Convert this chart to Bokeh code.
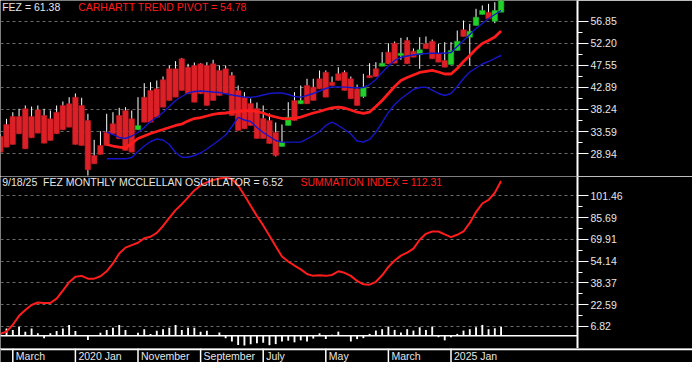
import numpy as np
import pandas as pd
from bokeh.plotting import figure
from bokeh.models import Range1d, FixedTicker, NumeralTickFormatter, Span, Label, ColumnDataSource
from bokeh.layouts import column
from bokeh.embed import file_html
from bokeh.resources import INLINE
from bokeh.core.properties import value

# ---------------- data ----------------
months = pd.period_range("2019-01", "2025-09", freq="M")
t = np.arange(len(months))

fez_open = [32.54, 35.07, 36.75, 36.75, 38.38, 36.75, 38.17, 36.97, 36.27, 37.66,
            39.08, 39.43, 40.83, 39.08, 35.91, 28.53, 30.64, 33.45, 35.22, 36.97,
            38.02, 36.27, 33.95, 40.83, 42.24, 42.60, 44.50, 46.82, 46.82, 48.93,
            47.15, 47.51, 47.87, 47.51, 47.87, 46.46, 46.82, 45.40, 42.24, 40.83,
            39.50, 38.44, 36.33, 35.91, 33.38, 30.43, 34.86, 40.13, 39.43, 43.29,
            42.94, 44.71, 46.10, 43.99, 45.76, 46.10, 44.71, 42.60, 40.97, 45.40,
            46.82, 47.36, 50.32, 52.21, 49.62, 52.78, 50.53, 49.83, 52.09, 52.64,
            49.98, 48.56, 47.72, 50.67, 55.04, 53.48, 55.95, 58.27, 58.75, 56.85,
            58.75]
fez_high = [33.00, 36.27, 37.66, 38.38, 39.08, 38.86, 39.08, 38.38, 38.02, 39.08,
            39.92, 40.83, 41.61, 40.70, 37.33, 31.84, 33.66, 37.33, 37.66, 38.59,
            38.72, 38.02, 40.83, 43.78, 43.99, 44.35, 45.19, 47.51, 48.42, 49.10,
            47.87, 48.14, 48.00, 48.21, 48.71, 47.51, 47.51, 46.10, 43.29, 41.88,
            40.55, 39.71, 39.08, 37.39, 35.49, 35.07, 39.77, 41.88, 43.29, 44.71,
            44.71, 46.46, 46.46, 45.19, 47.15, 46.46, 45.19, 43.50, 45.76, 47.99,
            48.21, 50.32, 52.21, 52.57, 53.35, 53.48, 51.10, 53.48, 53.63, 52.99,
            52.09, 52.43, 52.43, 54.89, 57.00, 56.30, 59.47, 60.17, 60.52, 60.86,
            61.50]
fez_low = [29.23, 30.28, 30.85, 33.11, 29.94, 32.26, 33.23, 31.12, 31.69, 33.11,
           33.95, 34.50, 30.85, 30.64, 24.31, 26.78, 28.74, 30.64, 33.11, 32.05,
           29.58, 29.23, 33.95, 35.55, 35.55, 36.61, 38.72, 40.13, 40.83, 42.24,
           41.54, 39.77, 41.54, 39.08, 40.13, 41.19, 41.54, 36.97, 33.80, 34.16,
           34.86, 32.12, 32.12, 31.06, 28.32, 30.43, 34.86, 35.91, 39.43, 39.43,
           40.13, 42.60, 40.83, 43.29, 44.35, 42.24, 40.49, 39.08, 40.70, 44.92,
           45.19, 47.36, 47.87, 47.99, 48.71, 47.87, 49.26, 46.82, 51.03, 48.92,
           48.21, 47.15, 47.72, 50.67, 53.63, 47.51, 55.95, 58.27, 57.36, 56.43,
           58.75]
fez_close = [29.23, 30.28, 30.85, 33.11, 29.94, 32.26, 33.23, 31.12, 31.69, 33.11,
             33.95, 34.50, 30.85, 30.64, 25.51, 26.78, 28.74, 30.64, 33.11, 32.05,
             29.58, 29.23, 34.86, 35.55, 35.55, 36.61, 38.72, 40.13, 40.83, 42.24,
             41.54, 39.77, 41.54, 39.08, 40.13, 41.19, 41.54, 36.97, 33.80, 34.16,
             34.86, 32.12, 32.12, 31.06, 28.53, 31.34, 36.61, 35.91, 40.13, 39.43,
             40.13, 42.60, 40.83, 43.29, 44.35, 42.24, 40.49, 39.08, 42.94, 44.92,
             45.19, 47.99, 47.87, 47.99, 50.11, 47.87, 49.26, 50.82, 51.03, 48.92,
             48.21, 47.15, 50.67, 52.64, 53.63, 54.75, 57.70, 59.11, 57.36, 59.11,
             61.38]

NA = np.nan
trend_pivot = [NA] * 17 + [
    30.85, 30.53, 30.32, 30.11, 31.06, 32.12, 32.64, 33.17, 33.59, 34.01,
    34.44, 34.86, 35.17, 35.81, 36.33, 36.54, 36.86, 37.18, 37.39, 37.49,
    37.66, 37.81, 37.92, 38.02, 37.81, 37.49, 36.97, 36.65, 36.33, 36.27,
    36.38, 36.61, 37.07, 37.49, 37.81, 38.23, 38.59, 38.72, 38.55, 38.13,
    37.66, 37.39, 37.70, 38.86, 40.13, 41.61, 43.08, 44.35, 44.98, 45.51,
    46.04, 46.25, 46.46, 46.14, 45.72, 45.72, 46.88, 48.35, 49.62, 50.99,
    52.15, 52.78, 53.52, 54.78]
band_upper = [NA] * 17 + [
    33.45, 32.96, 32.33, 32.12, 32.64, 33.38, 34.44, 35.70, 36.55, 37.60,
    38.86, 40.13, 40.97, 41.71, 42.03, 42.13, 42.03, 41.92, 41.82, 41.54,
    41.29, 41.08, 40.87, 40.76, 40.97, 41.29, 41.61, 41.71, 41.71, 41.40,
    40.97, 40.83, 41.19, 41.61, 42.13, 42.66, 42.98, 42.98, 42.94, 42.87,
    42.81, 42.87, 43.50, 44.56, 46.04, 47.41, 48.57, 49.20, 49.52, 49.73,
    49.94, 50.04, 50.11, 50.11, 50.11, 50.25, 51.52, 52.78, 54.05, 55.31,
    56.37, 57.42, 58.27, 59.11]
band_lower = [NA] * 17 + [
    27.83, 27.83, 27.83, 27.83, 28.11, 29.37, 30.53, 31.48, 32.01, 31.80,
    30.85, 29.16, 28.17, 28.17, 28.53, 29.06, 29.90, 30.85, 31.80, 32.85,
    34.65, 36.55, 36.02, 35.70, 34.44, 33.38, 32.54, 31.69, 31.34, 31.34,
    31.34, 31.34, 32.01, 32.75, 33.59, 34.86, 35.55, 34.86, 34.01, 33.07,
    31.59, 31.38, 31.91, 33.45, 35.49, 37.60, 39.29, 40.49, 41.50, 42.45,
    42.87, 42.94, 42.34, 41.61, 41.19, 41.61, 43.08, 44.77, 46.14, 46.98,
    47.83, 48.35, 48.99, 49.62]

summation_index = [
    1.6, 3.0, 8.0, 14.5, 18.8, 22.4, 24.2, 23.8, 23.8, 27.0,
    32.8, 38.9, 42.8, 43.5, 41.5, 41.5, 43.2, 46.8, 52.5, 59.7,
    64.0, 65.8, 67.5, 70.8, 71.9, 74.7, 79.7, 85.5, 91.2, 95.5,
    100.5, 105.5, 109.1, 111.3, 113.1, 114.2, 114.7, 113.8, 109.1, 102.0,
    94.4, 86.9, 80.1, 72.6, 65.0, 57.5, 53.9, 51.0, 48.2, 44.9,
    43.5, 43.9, 43.5, 44.2, 46.8, 45.7, 43.5, 39.8, 37.4, 37.1,
    39.2, 43.9, 50.0, 54.6, 58.2, 60.4, 63.3, 69.7, 74.0, 75.7,
    75.7, 73.6, 71.6, 73.3, 75.7, 81.9, 89.8, 96.0, 98.7, 103.8,
    112.31]
oscillator = [
    1.5, 5.4, 4.2, 6.6, 3.0, 5.4, 1.8, -1.8, 1.8, 3.5,
    5.4, 7.8, 3.5, 0.3, -3.0, 0.2, 2.3, 4.2, 5.9, 7.8,
    4.2, 0.3, 2.3, 4.7, 1.3, 3.7, 4.7, 5.9, 7.8, 4.2,
    5.9, 5.9, 3.0, 3.7, 0.3, 2.5, -1.8, -4.2, -6.6, -7.1,
    -6.1, -5.4, -5.0, -6.8, -6.0, -4.2, -3.5, -4.7, -3.3, -4.1,
    -2.0, 1.8, -2.3, 0.8, 3.0, 0.3, -4.1, -2.4, -1.7, 1.4,
    3.8, 4.8, 6.7, 4.3, 2.4, 4.8, 3.8, 6.2, 4.3, 6.7,
    -1.0, -3.3, -1.0, 1.4, 3.8, 4.8, 6.2, 7.9, 4.8, 5.5,
    6.52]

price_ticks = [28.94, 33.59, 38.24, 42.89, 47.55, 52.20, 56.85]
si_ticks = [6.82, 22.59, 38.37, 54.14, 69.91, 85.69, 101.46]
date_tick_months = ["2019-03", "2020-01", "2020-11", "2021-09", "2022-07", "2023-05", "2024-03", "2025-01"]
date_tick_labels = ["March", "2020 Jan", "November", "September", "July", "May", "March", "2025 Jan"]

header_price = "FEZ = 61.38"
header_pivot = "CARHARTT TREND PIVOT = 54.78"
header_osc = "9/18/25\u00a0 FEZ MONTHLY MCCLELLAN OSCILLATOR = 6.52"
header_si = "SUMMATION INDEX = 112.31"

# ---------------- layout / style ----------------
FONT = "Liberation Sans"
FS = "10.5px"
TXT = "#e6e6e6"
RED = "#dc2027"
RED_EDGE = "#b3161d"
GREEN = "#22d02a"
GREEN_EDGE = "#18a01e"
LINE_RED = "#ff1c1c"
BLUE = "#1616c8"
GRID = "#6a6a6a"

PX_PER_MONTH = 6.26
FRAME_W = 577
RIGHT_W = 115
TOP_H = 176
BOT_H = 172
BAND_H = 14
X0 = 0.035
xr = Range1d(X0, X0 + FRAME_W / PX_PER_MONTH)

price_range = Range1d(24.1, 61.22)
si_range = Range1d(-9.2, 115.6)


def y_from_top(rng, frame_h, px):
    return rng.end - px * (rng.end - rng.start) / frame_h


def midpoints(ticks):
    return [(a + b) / 2 for a, b in zip(ticks[:-1], ticks[1:])]


def make_panel(frame_h, yr, ticks):
    p = figure(frame_width=FRAME_W, frame_height=frame_h, x_range=xr, y_range=yr,
               x_axis_location=None, y_axis_location="right",
               output_backend="svg", toolbar_location=None,
               background_fill_color="black", border_fill_color="black",
               outline_line_color=None, min_border=0, min_border_right=RIGHT_W)
    p.xgrid.visible = False
    ax = p.yaxis[0]
    ax.ticker = FixedTicker(ticks=ticks, minor_ticks=midpoints(ticks))
    ax.formatter = NumeralTickFormatter(format="0.00")
    ax.axis_line_color = "white"
    ax.axis_line_width = 2
    ax.major_tick_line_color = "white"
    ax.major_tick_in = 0
    ax.major_tick_out = 11
    ax.minor_tick_line_color = "white"
    ax.minor_tick_in = 0
    ax.minor_tick_out = 5
    ax.major_label_standoff = 2
    ax.major_label_text_color = TXT
    ax.major_label_text_font = FONT
    ax.major_label_text_font_size = FS
    p.ygrid.ticker = FixedTicker(ticks=ticks)
    p.ygrid.grid_line_color = GRID
    p.ygrid.grid_line_dash = "3 3"
    p.ygrid.grid_line_width = 1
    return p


# ---------------- top panel: price ----------------
pa = make_panel(TOP_H, price_range, price_ticks)
o = np.array(fez_open)
c = np.array(fez_close)
up = c >= o
src = ColumnDataSource(dict(
    t=t, high=fez_high, low=fez_low,
    top=np.maximum(o, c), bottom=np.minimum(o, c),
    fill=np.where(up, GREEN, RED), edge=np.where(up, GREEN_EDGE, RED_EDGE)))
pa.segment(x0="t", y0="high", x1="t", y1="low", source=src, line_color="white", line_width=1)
pa.vbar(x="t", width=0.9, top="top", bottom="bottom", source=src,
        fill_color="fill", line_color="edge", line_width=0.5)
pa.line(t, band_lower, line_color=BLUE, line_width=1.4)
pa.line(t, band_upper, line_color=BLUE, line_width=1.4)
pa.line(t, trend_pivot, line_color=LINE_RED, line_width=2.8)

yt = y_from_top(price_range, TOP_H, 6.0)
pa.add_layout(Label(x=X0, y=yt, x_offset=1.7, text=header_price, text_color=TXT,
                    text_font=FONT, text_font_size=FS, text_baseline="middle"))
pa.add_layout(Label(x=X0, y=yt, x_offset=77.7, text=header_pivot, text_color=LINE_RED,
                    text_font=FONT, text_font_size=FS, text_baseline="middle"))

# ---------------- bottom panel: summation index + oscillator ----------------
pb = make_panel(BOT_H, si_range, si_ticks)
pb.add_layout(Span(location=0, dimension="width", line_color="white", line_width=1.6))
pb.vbar(x=t, width=0.3, top=oscillator, bottom=0, fill_color="white", line_color=None)
pb.line(t, summation_index, line_color=LINE_RED, line_width=2.0)

yb = y_from_top(si_range, BOT_H, 5.7 * BOT_H / 174)
pb.add_layout(Label(x=X0, y=yb, x_offset=1.7, text=header_osc, text_color=TXT,
                    text_font=FONT, text_font_size=FS, text_baseline="middle"))
pb.add_layout(Label(x=X0, y=yb, x_offset=300, text=header_si, text_color=LINE_RED,
                    text_font=FONT, text_font_size=FS, text_baseline="middle"))

# ---------------- date band ----------------
total_w = FRAME_W + RIGHT_W
pc = figure(frame_width=total_w, frame_height=BAND_H,
            x_range=Range1d(X0, X0 + total_w / PX_PER_MONTH), y_range=Range1d(0, BAND_H),
            x_axis_location=None, y_axis_location=None,
            output_backend="svg", toolbar_location=None,
            background_fill_color="black", border_fill_color="black",
            outline_line_color=None, min_border=0)
pc.grid.visible = False
tick_idx = [months.get_loc(pd.Period(m, freq="M")) for m in date_tick_months]
pc.add_layout(Span(location=BAND_H - 0.8, dimension="width", line_color="white", line_width=1.7))
pc.segment(x0=tick_idx, y0=0, x1=tick_idx, y1=BAND_H, line_color="white", line_width=1.5)
pc.text(x=tick_idx, y=[BAND_H / 2 - 0.5] * len(tick_idx), text=date_tick_labels,
        x_offset=3, text_align="left", text_baseline="middle",
        text_color=TXT, text_font=value(FONT), text_font_size=value(FS))

layout = column(pa, pb, pc, spacing=0)
open("out.html", "w").write(file_html(layout, INLINE))
